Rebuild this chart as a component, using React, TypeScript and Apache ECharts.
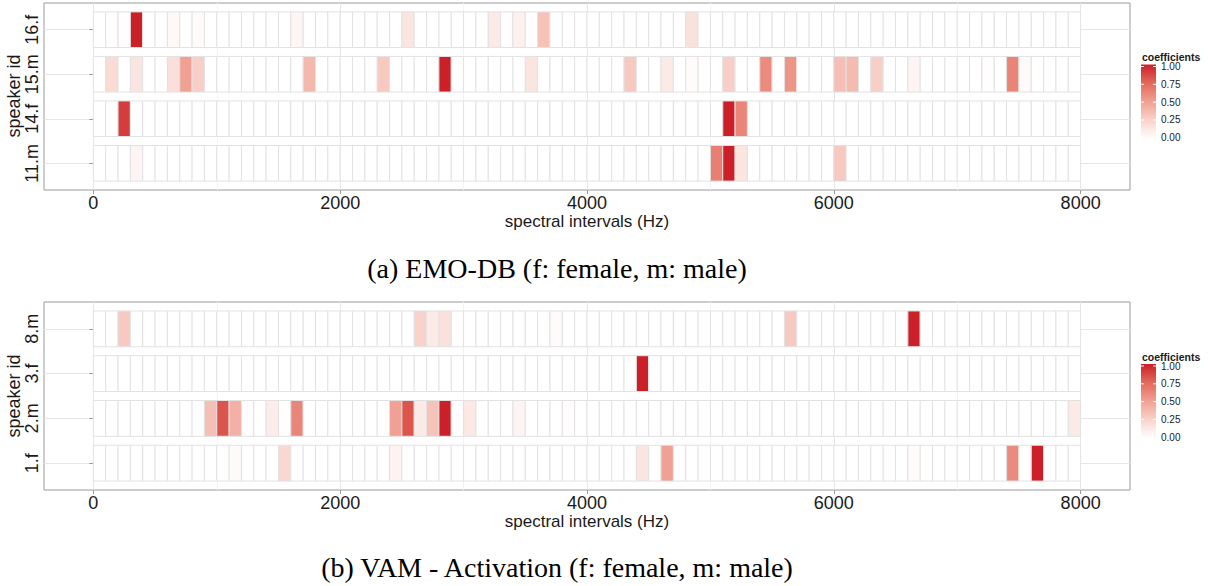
import React, { useEffect, useRef } from "react";
import * as echarts from "echarts";

// 100 Hz spectral intervals from 0 to 8000 Hz
const binStartsHz = Array.from({ length: 80 }, (_, i) => i * 100);
const binWidthHz = 100;
const xTicks = [0, 2000, 4000, 6000, 8000];
const xMinorGrid = [1000, 3000, 5000, 7000];
const rowTicks = [1, 2, 3, 4];
const legendTicks = [0, 0.25, 0.5, 0.75, 1];
const legendLabels = ["0.00", "0.25", "0.50", "0.75", "1.00"];

const emoSpeakers = ["11.m", "14.f", "15.m", "16.f"];
const vamSpeakers = ["1.f", "2.m", "3.f", "8.m"];

// non-zero coefficients: [interval start (Hz), coefficient]
const emo11m = [[300, 0.06], [5000, 0.65], [5100, 1.0], [5200, 0.15], [6000, 0.3]];
const emo14f = [[200, 0.9], [5100, 1.0], [5200, 0.62]];
const emo15m = [
  [100, 0.2], [300, 0.15], [600, 0.18], [700, 0.5], [800, 0.27], [1700, 0.38],
  [2300, 0.3], [2800, 1.0], [3500, 0.15], [4300, 0.3], [4600, 0.12], [4800, 0.02],
  [5100, 0.27], [5400, 0.6], [5600, 0.55], [6000, 0.35], [6100, 0.37], [6300, 0.27],
  [6600, 0.06], [7200, 0.01], [7400, 0.63], [7500, 0.03],
];
const emo16f = [
  [200, 0.01], [300, 1.0], [600, 0.04], [800, 0.02], [1600, 0.05], [2500, 0.15],
  [3200, 0.12], [3300, 0.01], [3400, 0.08], [3600, 0.33], [4800, 0.17],
];

const vam1f = [[1100, 0.03], [1500, 0.22], [2400, 0.07], [4400, 0.15], [4600, 0.5], [6600, 0.02], [7400, 0.6], [7600, 1.0]];
const vam2m = [
  [900, 0.35], [1000, 0.82], [1100, 0.42], [1200, 0.01], [1400, 0.1], [1500, 0.01],
  [1600, 0.62], [2400, 0.5], [2500, 0.82], [2600, 0.12], [2700, 0.33], [2800, 1.0],
  [3000, 0.13], [3400, 0.06], [3800, 0.01], [7900, 0.12],
];
const vam3f = [[4400, 1.0]];
const vam8m = [[200, 0.3], [2600, 0.25], [2700, 0.12], [2800, 0.17], [3700, 0.02], [5600, 0.3], [6600, 1.0]];

const palette = ["#FFFFFF", "#F9D3CB", "#F0A193", "#E2695C", "#CB2027"];

const SANS = "'Liberation Sans', Arial, Helvetica, sans-serif";
const SERIF = "'Liberation Serif', 'Times New Roman', serif";
const TEXT = "#1A1A1A";

function buildRows(rows: number[][][]) {
  const out: number[][] = [];
  rows.forEach((row, r) => {
    binStartsHz.forEach((x) => {
      const hit = row.find((d) => d[0] === x);
      out.push([x, r + 1, hit ? hit[1] : 0]);
    });
  });
  return out;
}

const emoData = buildRows([emo11m, emo14f, emo15m, emo16f]);
const vamData = buildRows([vam1f, vam2m, vam3f, vam8m]);

const renderTile = (params: any, api: any) => {
  const x0 = api.value(0);
  const row = api.value(1);
  const p0 = api.coord([x0, row]);
  const p1 = api.coord([x0 + binWidthHz, row]);
  const h = api.size([0, 0.8])[1];
  return {
    type: "rect",
    shape: { x: p0[0], y: p0[1] - h / 2, width: p1[0] - p0[0], height: h },
    style: { fill: api.visual("color"), stroke: "#E2E2E2", lineWidth: 1 },
  };
};

function mainX(gridIndex: number) {
  return {
    type: "value",
    gridIndex,
    min: -400,
    max: 8400,
    name: "spectral intervals (Hz)",
    nameLocation: "middle",
    nameGap: 20,
    nameTextStyle: { fontSize: 17, color: TEXT, fontFamily: SANS },
    axisLine: { show: false },
    axisTick: { show: true, customValues: xTicks, length: 4, lineStyle: { color: "#9A9A9A" } },
    axisLabel: { customValues: xTicks, fontSize: 18, color: TEXT, fontFamily: SANS, margin: 4, formatter: (v: number) => String(v) },
    splitLine: { show: true, lineStyle: { color: "#E6E6E6", width: 1 } },
  };
}
function minorX(gridIndex: number) {
  return {
    type: "value",
    gridIndex,
    position: "top",
    min: -400,
    max: 8400,
    axisLine: { show: false },
    axisTick: { show: false, customValues: xMinorGrid },
    axisLabel: { show: false, customValues: xMinorGrid },
    splitLine: { show: true, lineStyle: { color: "#F3F3F3", width: 1 } },
  };
}
function yAx(gridIndex: number, names: string[]) {
  return {
    type: "value",
    gridIndex,
    min: 0.4,
    max: 4.6,
    axisLine: { show: false },
    axisTick: { show: true, customValues: rowTicks, length: 4, lineStyle: { color: "#9A9A9A" } },
    axisLabel: {
      customValues: rowTicks,
      rotate: 90,
      fontSize: 18,
      color: TEXT,
      fontFamily: SANS,
      margin: 3,
      formatter: (v: number) => names[Math.round(v) - 1] ?? "",
    },
    splitLine: { show: true, lineStyle: { color: "#E6E6E6", width: 1 } },
  };
}

function yTitle(cy: number) {
  return {
    type: "text",
    x: 14,
    y: cy,
    rotation: Math.PI / 2,
    style: { text: "speaker id", fontSize: 18, fill: TEXT, fontFamily: SANS, align: "center", verticalAlign: "middle" },
  };
}

function legendGraphic(offY: number) {
  const barX = 1141;
  const barW = 15;
  const yOf = (v: number) => 137.8 + offY - v * 71.3;
  const els: any[] = [
    {
      type: "text",
      x: 1142,
      y: 57 + offY,
      style: { text: "coefficients", fontSize: 10.5, fontWeight: "bold", fill: TEXT, fontFamily: SANS, verticalAlign: "middle" },
    },
    {
      type: "rect",
      shape: { x: barX, y: yOf(1) - 2, width: barW, height: yOf(0) - yOf(1) + 3 },
      style: {
        fill: new echarts.graphic.LinearGradient(0, 0, 0, 1, palette.slice().reverse().map((c, i) => ({ offset: i / (palette.length - 1), color: c }))),
      },
    },
  ];
  legendTicks.forEach((v, i) => {
    const y = yOf(v);
    els.push({ type: "line", shape: { x1: barX, y1: y, x2: barX + 3, y2: y }, style: { stroke: "#FFFFFF", lineWidth: 1 } });
    els.push({ type: "line", shape: { x1: barX + barW - 3, y1: y, x2: barX + barW, y2: y }, style: { stroke: "#FFFFFF", lineWidth: 1 } });
    els.push({
      type: "text",
      x: 1161,
      y,
      style: { text: legendLabels[i], fontSize: 10, fill: TEXT, fontFamily: SANS, verticalAlign: "middle" },
    });
  });
  return els;
}

export default function App() {
  const ref = useRef<HTMLDivElement>(null);
  useEffect(() => {
    document.body.style.margin = "0";
    const chart = echarts.init(ref.current!, undefined, { renderer: "svg" });
    const gridBase = { show: true, borderColor: "#9A9A9A", borderWidth: 1, backgroundColor: "#FFFFFF", containLabel: false, outerBoundsMode: "none" };
    chart.setOption({
      animation: false,
      backgroundColor: "#FFFFFF",
      grid: [
        { ...gridBase, left: 44, top: 3, width: 1086, height: 187 },
        { ...gridBase, left: 44, top: 302, width: 1086, height: 188 },
      ],
      xAxis: [mainX(0), minorX(0), mainX(1), minorX(1)],
      yAxis: [yAx(0, emoSpeakers), yAx(1, vamSpeakers)],
      visualMap: {
        type: "continuous",
        show: false,
        min: 0,
        max: 1,
        dimension: 2,
        seriesIndex: [0, 1],
        inRange: { color: palette },
      },
      series: [
        { type: "custom", xAxisIndex: 0, yAxisIndex: 0, data: emoData, encode: { x: 0, y: 1 }, renderItem: renderTile },
        { type: "custom", xAxisIndex: 2, yAxisIndex: 1, data: vamData, encode: { x: 0, y: 1 }, renderItem: renderTile },
      ],
      graphic: [
        yTitle(96),
        yTitle(396),
        ...legendGraphic(0),
        ...legendGraphic(299.5),
        {
          type: "text",
          x: 557,
          y: 268,
          style: { text: "(a) EMO-DB (f: female, m: male)", fontSize: 28, fill: "#000", fontFamily: SERIF, align: "center", verticalAlign: "middle" },
        },
        {
          type: "text",
          x: 557,
          y: 567,
          style: { text: "(b) VAM - Activation (f: female, m: male)", fontSize: 28, fill: "#000", fontFamily: SERIF, align: "center", verticalAlign: "middle" },
        },
      ],
    });
    return () => chart.dispose();
  }, []);
  return <div ref={ref} style={{ width: 1208, height: 586 }} />;
}
